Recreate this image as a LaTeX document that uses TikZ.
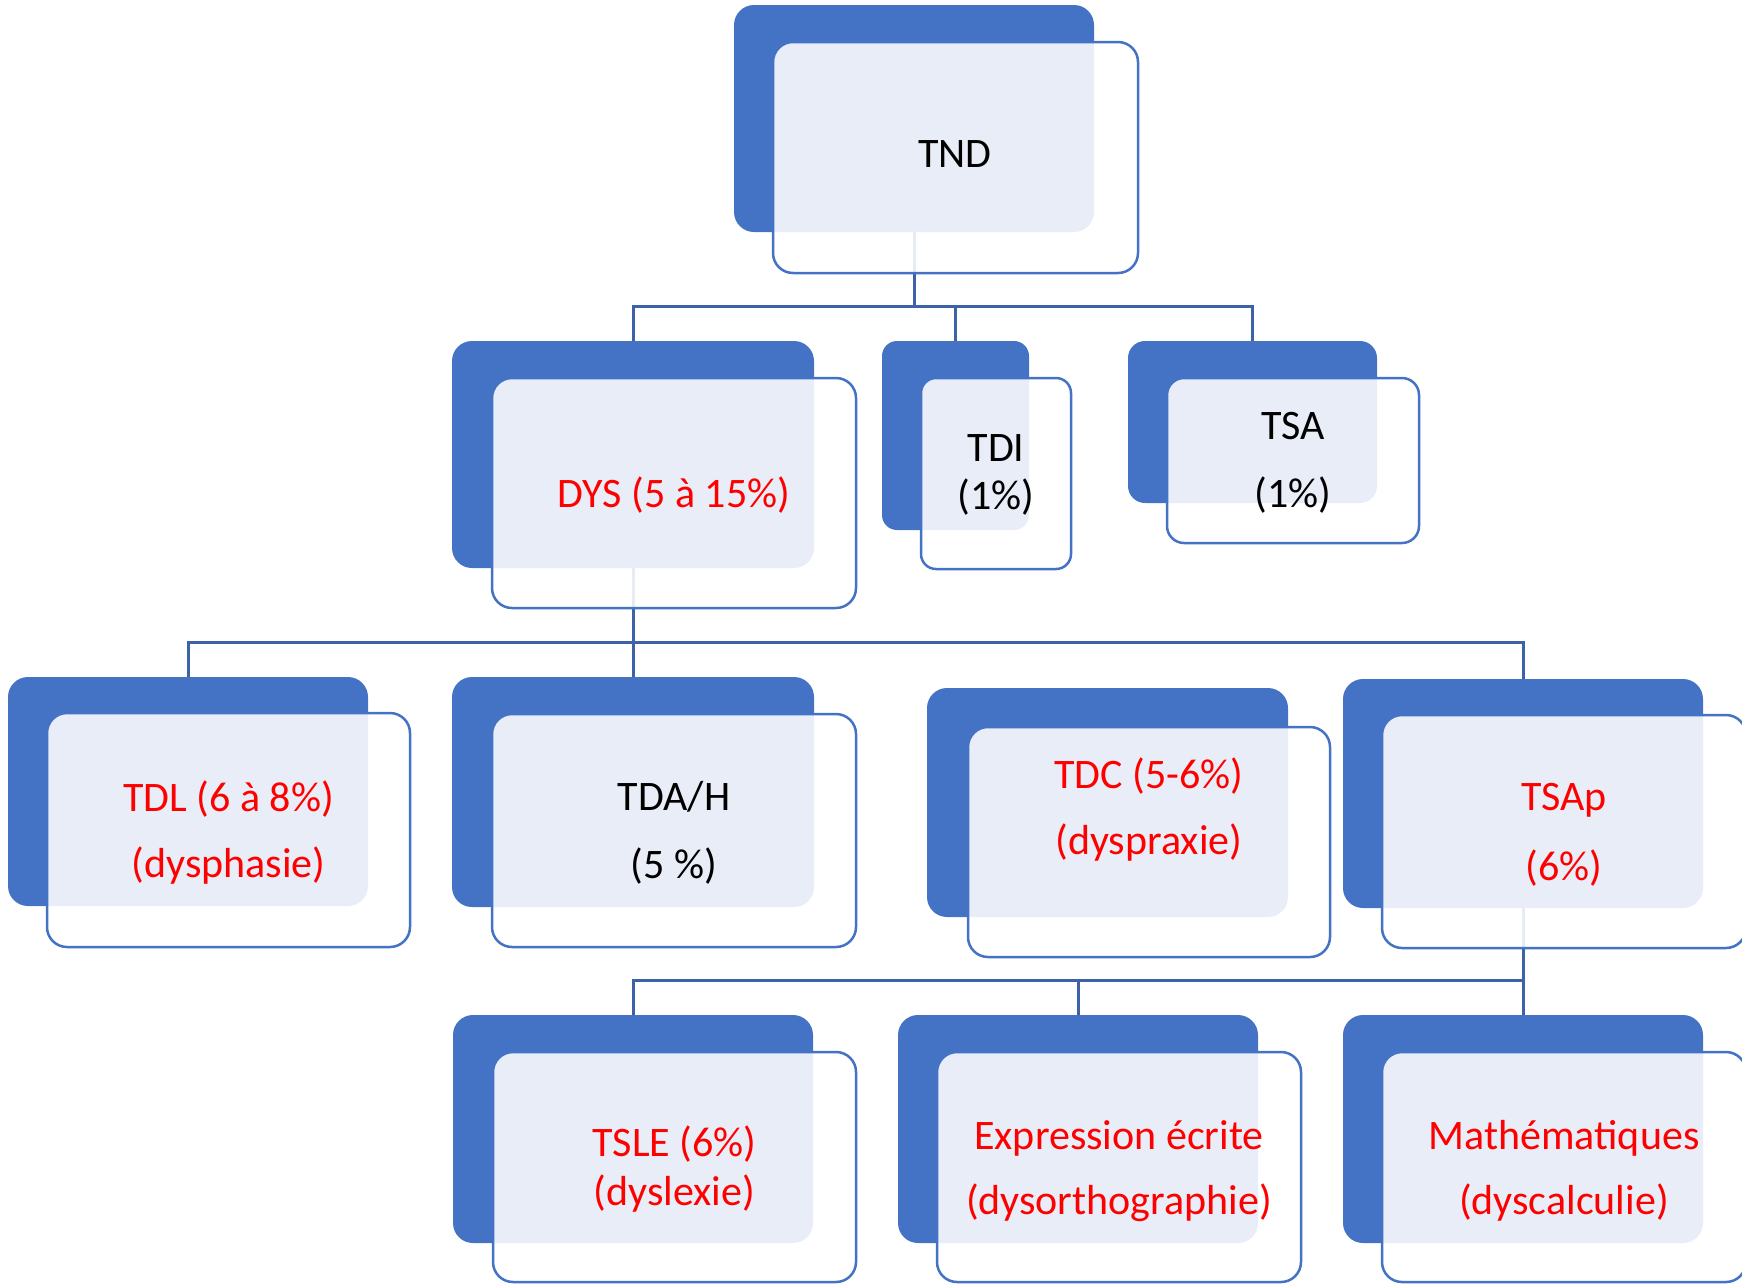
\documentclass[tikz,border=0pt]{standalone}
\usepackage{fontspec}
\setmainfont{Carlito}
\definecolor{accent}{HTML}{4472C4}
\definecolor{wirecol}{RGB}{61,98,170}
\definecolor{alert}{HTML}{FF0000}
\tikzset{
  back/.style={fill=accent, rounded corners=20pt, inner sep=0pt, outer sep=0pt},
  front/.style={draw=accent, line width=2.5pt, fill=white, fill opacity=0.88,
    rounded corners=20pt, inner sep=0pt, outer sep=0pt},
  txt/.style={align=center, inner sep=0pt, font=\fontsize{42}{50}\selectfont},
  red/.style={text=alert},
  lead/.style={draw=wirecol, line width=3pt},
}
\begin{document}
\begin{tikzpicture}[x=1pt, y=-1pt]
  \useasboundingbox (0,0) rectangle (1742,1283);
  \clip (0,0) rectangle (1742,1283);

  % blue back plates
  \node[back, minimum width=360pt, minimum height=227pt] (tnd)  at (914,118.5) {};
  \node[back, minimum width=362pt, minimum height=227pt] (dys)  at (633,454.5) {};
  \node[back, minimum width=147pt, minimum height=189pt, rounded corners=15pt] (tdi) at (955.5,435.5) {};
  \node[back, minimum width=249pt, minimum height=162pt, rounded corners=17pt] (tsa) at (1252.5,422) {};
  \node[back, minimum width=360pt, minimum height=229pt] (tdl)  at (188,791.5) {};
  \node[back, minimum width=362pt, minimum height=230pt] (tdah) at (633,792) {};
  \node[back, minimum width=361pt, minimum height=229pt] (tdc)  at (1107.5,802.5) {};
  \node[back, minimum width=360pt, minimum height=229pt] (tsap) at (1523,793.5) {};
  \node[back, minimum width=360pt, minimum height=228pt] (tsle) at (633,1129) {};
  \node[back, minimum width=360pt, minimum height=228pt] (expr) at (1078,1129) {};
  \node[back, minimum width=360pt, minimum height=228pt] (math) at (1523,1129) {};

  % buses of the three elbow connectors
  \coordinate (busA) at (0,306);
  \coordinate (busB) at (0,642);
  \coordinate (busC) at (0,980);

  \draw[lead] (tnd.south) -- (tnd.south |- busA) -| (dys.north);
  \draw[lead] (tnd.south |- busA) -| (tdi.north);
  \draw[lead] (tnd.south |- busA) -| (tsa.north);

  \draw[lead] (dys.south) -- (dys.south |- busB) -| (tdl.north);
  \draw[lead] (dys.south |- busB) -- (tdah.north);
  \draw[lead] (dys.south |- busB) -| (tsap.north);

  \draw[lead] (tsap.south) -- (tsap.south |- busC) -| (tsle.north);
  \draw[lead] (tsap.south |- busC) -| (expr.north);
  \draw[lead] (tsap.south |- busC) -| (math.north);

  % translucent cards
  \node[front, minimum width=365pt, minimum height=231pt] (tnd-c)  at (955.5,157.5) {};
  \node[front, minimum width=364pt, minimum height=230pt] (dys-c)  at (674,493) {};
  \node[front, minimum width=150pt, minimum height=191pt, rounded corners=15pt] (tdi-c) at (996,473.5) {};
  \node[front, minimum width=252pt, minimum height=165pt, rounded corners=17pt] (tsa-c) at (1293,460.5) {};
  \node[front, minimum width=363pt, minimum height=234pt] (tdl-c)  at (228.5,830) {};
  \node[front, minimum width=364pt, minimum height=233pt] (tdah-c) at (674,830.5) {};
  \node[front, minimum width=362pt, minimum height=230pt] (tdc-c)  at (1149,842) {};
  \node[front, minimum width=364pt, minimum height=233pt] (tsap-c) at (1564,831.5) {};
  \node[front, minimum width=363pt, minimum height=230pt] (tsle-c) at (674.5,1167) {};
  \node[front, minimum width=364pt, minimum height=230pt] (expr-c) at (1119,1167) {};
  \node[front, minimum width=364pt, minimum height=230pt] (math-c) at (1564,1167) {};

  % card texts
  \node[txt] (tnd-l) at (955,154.5) {TND};
  \node[txt, red] (dys-l) at (674,495) {DYS (5 à 15\%)};
  \node[txt, font=\fontsize{42}{48}\selectfont] (tdi-l) at (996,475) {TDI\\(1\%)};
  \node[txt, font=\fontsize{42}{68}\selectfont] (tsa-l) at (1293,462.5) {TSA\\(1\%)};
  \node[txt, red, font=\fontsize{42}{66}\selectfont] (tdl-l) at (228.5,832.5) {TDL (6 à 8\%)\\(dysphasie)};
  \node[txt, font=\fontsize{42}{68}\selectfont] (tdah-l) at (674,832.5) {TDA/H\\(5 \%)};
  \node[txt, red, font=\fontsize{42}{66}\selectfont] (tdc-l) at (1149,810) {TDC (5-6\%)\\(dyspraxie)};
  \node[txt, red, font=\fontsize{42}{70}\selectfont] (tsap-l) at (1564,835) {TSAp\\(6\%)};
  \node[txt, red, font=\fontsize{42}{49}\selectfont] (tsle-l) at (674.5,1169) {TSLE (6\%)\\(dyslexie)};
  \node[txt, red, font=\fontsize{42}{65}\selectfont] (expr-l) at (1119,1171) {Expression écrite\\(dysorthographie)};
  \node[txt, red, font=\fontsize{42}{65}\selectfont] (math-l) at (1564,1170.5) {Mathématiques\\(dyscalculie)};
\end{tikzpicture}
\end{document}
